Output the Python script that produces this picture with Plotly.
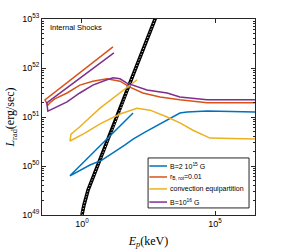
import numpy as np
import plotly.graph_objects as go

# log10 values
blue_logE = [1.92, -0.45, 0.30, 0.75, 1.62, 1.92, 2.37, 2.67, 3.20, 3.68, 3.95, 4.70, 6.5]
blue_logL = [51.08, 49.80, 50.02, 50.12, 50.43, 50.55, 50.69, 50.78, 50.94, 51.08, 51.10, 51.12, 51.10]

orange_logE = [1.165, -1.39, -1.28, -1.20, -1.02, -0.56, -0.08, 0.41, 0.94, 1.43, 1.80, 2.29, 2.93, 3.68, 4.70, 6.5]
orange_logL = [52.43, 51.35, 51.24, 51.29, 51.37, 51.49, 51.65, 51.73, 51.78, 51.73, 51.61, 51.49, 51.41, 51.35, 51.29, 51.29]

yellow_logE = [2.07, 0.68, -0.08, -0.41, -0.45, 0.11, 0.68, 1.43, 2.07, 2.56, 3.20, 3.68, 4.17, 4.81, 6.5]
yellow_logL = [51.76, 51.18, 50.80, 50.65, 50.51, 50.67, 50.86, 51.06, 51.18, 51.14, 51.00, 50.88, 50.73, 50.57, 50.55]

purple_logE = [1.20, -1.32, -1.28, -0.56, -0.08, 0.41, 0.94, 1.17, 1.43, 1.69, 2.44, 3.20, 3.68, 4.70, 6.5]
purple_logL = [52.31, 51.29, 51.12, 51.31, 51.49, 51.65, 51.76, 51.80, 51.78, 51.69, 51.55, 51.49, 51.41, 51.35, 51.35]

black_logE = [0.0, 0.075, 0.23, 0.53, 0.98, 1.43, 1.80, 2.11, 2.48, 2.74, 2.82]
black_logL = [49.0, 49.20, 49.51, 49.92, 50.53, 51.14, 51.69, 52.12, 52.63, 53.0, 53.1]

names = ["B=2 10<sup>15</sup> G", "r<sub>B, rot</sub>=0.01", "convection equipartition", "B=10<sup>16</sup> G"]
colors = ["#0072BD", "#D95319", "#EDB120", "#7E2F8E"]

y_tickvals = [1e49, 1e50, 1e51, 1e52, 1e53]
y_ticktext = ["10<sup>49</sup>", "10<sup>50</sup>", "10<sup>51</sup>", "10<sup>52</sup>", "10<sup>53</sup>"]
x_tickvals = [1e0, 1e5]
x_ticktext = ["10<sup>0</sup>", "10<sup>5</sup>"]

def p(v):
    return np.power(10.0, np.array(v))

fig = go.Figure()

# black band (hatched look)
fig.add_trace(go.Scatter(x=p(black_logE), y=p(black_logL), mode="lines",
                         line=dict(color="black", width=3.6), showlegend=False))
fig.add_trace(go.Scatter(x=p(black_logE), y=p(black_logL), mode="lines",
                         line=dict(color="white", width=1.0, dash="1px,2px"), showlegend=False))

for lx, ly, nm, c in [(blue_logE, blue_logL, names[0], colors[0]),
                      (orange_logE, orange_logL, names[1], colors[1]),
                      (yellow_logE, yellow_logL, names[2], colors[2]),
                      (purple_logE, purple_logL, names[3], colors[3])]:
    fig.add_trace(go.Scatter(x=p(lx), y=p(ly), mode="lines", name=nm,
                             line=dict(color=c, width=1.5), showlegend=False))

fig.add_annotation(x=0.03, y=0.955, xref="paper", yref="paper", text="Internal Shocks",
                   showarrow=False, xanchor="left", yanchor="middle",
                   font=dict(size=7.5, color="black", family="Liberation Sans"))

# manual legend box
leg_x0, leg_x1, leg_y0, leg_y1 = 0.498, 0.972, 0.036, 0.291
fig.add_shape(type="rect", xref="paper", yref="paper", x0=leg_x0, x1=leg_x1, y0=leg_y0, y1=leg_y1,
              line=dict(color="#262626", width=1), fillcolor="white", layer="above")
row_y = [0.25, 0.194, 0.133, 0.066]
for ry, nm, c in zip(row_y, names, colors):
    fig.add_shape(type="line", xref="paper", yref="paper", x0=0.504, x1=0.587, y0=ry, y1=ry,
                  line=dict(color=c, width=1.5), layer="above")
    fig.add_annotation(x=0.592, y=ry, xref="paper", yref="paper", text=nm, showarrow=False,
                       xanchor="left", yanchor="middle",
                       font=dict(size=7, color="black", family="Liberation Sans"))

fig.update_layout(
    width=282, height=252,
    margin=dict(l=42, r=27, t=19, b=37),
    paper_bgcolor="white", plot_bgcolor="white",
    font=dict(family="Liberation Sans", size=9, color="black"),
    showlegend=False,
    xaxis=dict(type="log", range=[-1.5, 6.5], tickvals=x_tickvals, ticktext=x_ticktext,
               ticks="inside", ticklen=4, tickcolor="#262626", showgrid=False, zeroline=False,
               showline=True, linecolor="#262626", linewidth=1, mirror="ticks", automargin=False,
               title=dict(text="<i>E</i><sub><i>p</i></sub>(keV)", standoff=8,
                          font=dict(family="Liberation Serif", size=12))),
    yaxis=dict(type="log", range=[49, 53], tickvals=y_tickvals, ticktext=y_ticktext,
               ticks="inside", ticklen=4, tickcolor="#262626", showgrid=False, zeroline=False,
               showline=True, linecolor="#262626", linewidth=1, mirror="ticks", automargin=False,
               minor=dict(ticks="inside", ticklen=2, tickcolor="#262626", dtick="D1", showgrid=False),
               title=dict(text="<i>L</i><sub>rad</sub>(erg/sec)", standoff=4,
                          font=dict(family="Liberation Serif", size=12))),
)

fig.write_html("out.html", config={"displayModeBar": False},
               post_script="document.body.style.margin='0';document.body.style.overflow='hidden';")
